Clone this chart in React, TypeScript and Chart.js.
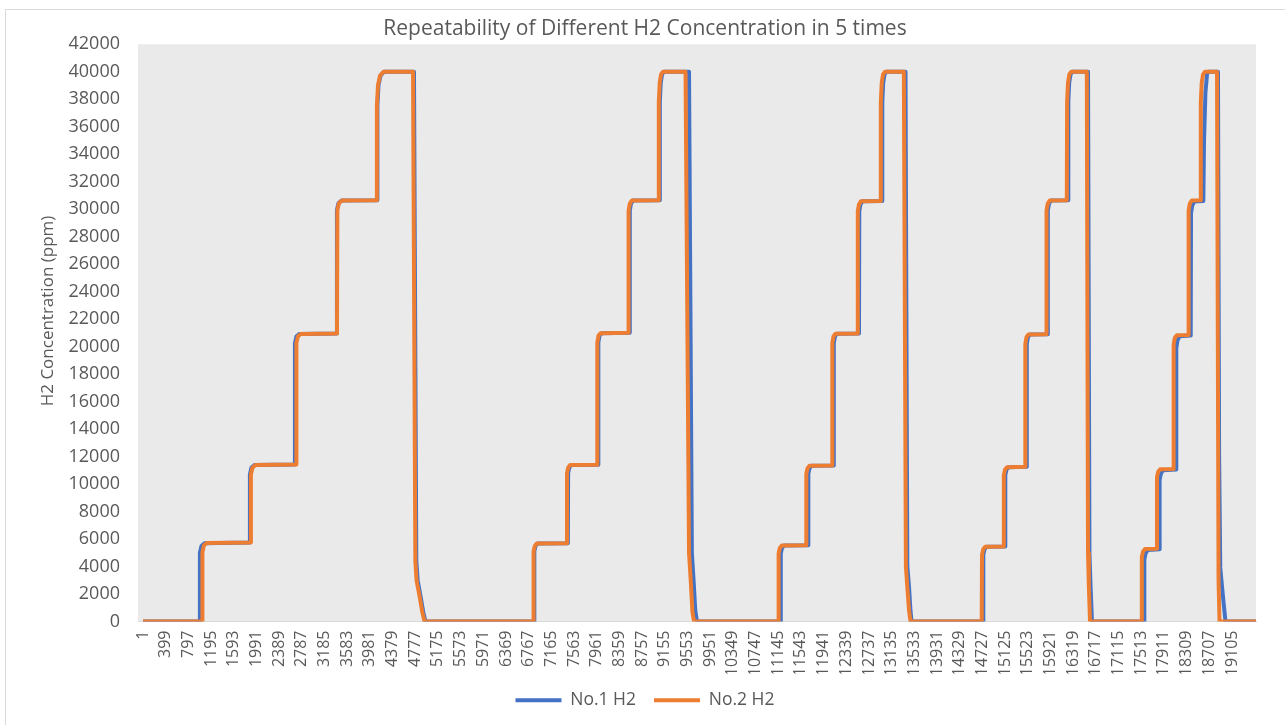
import React, { useEffect, useRef } from 'react';
import { Chart, registerables } from 'chart.js';

Chart.register(...registerables);

const chartTitle = 'Repeatability of Different H2 Concentration in 5 times';
const yAxisTitle = 'H2 Concentration (ppm)';
const seriesNames = ['No.1 H2', 'No.2 H2'];
const seriesColors = ['#4472C4', '#ED7D31'];

const xTickValues = [
  1, 399, 797, 1195, 1593, 1991, 2389, 2787, 3185, 3583, 3981, 4379, 4777, 5175, 5573, 5971,
  6369, 6767, 7165, 7563, 7961, 8359, 8757, 9155, 9553, 9951, 10349, 10747, 11145, 11543,
  11941, 12339, 12737, 13135, 13533, 13931, 14329, 14727, 15125, 15523, 15921, 16319, 16717,
  17115, 17513, 17911, 18309, 18707, 19105,
];

const yMin = 0;
const yMax = 42000;
const yStep = 2000;

// No.1 H2 (sample index, ppm)
const no1X = [
  1, 992, 999, 1027, 1080, 1869, 1876, 1904, 1957, 2659, 2666, 2694, 2747, 3396, 3403, 3431, 3484,
  4106, 4113, 4132, 4167, 4229, 4755, 4796, 4820, 4872, 4917, 4957,
  6861, 6866, 6887, 6922, 7454, 7459, 7480, 7515, 7984, 7989, 8010, 8045, 8536, 8541, 8562, 8597,
  9063, 9068, 9084, 9107, 9142, 9580, 9630, 9660, 9690, 9720,
  11185, 11190, 11211, 11246, 11668, 11673, 11694, 11729, 12115, 12120, 12141, 12176, 12562, 12567,
  12588, 12623, 12966, 12971, 12987, 13010, 13045, 13378, 13410, 13440, 13465, 13484,
  14738, 14743, 14764, 14799, 15124, 15129, 15150, 15185, 15501, 15506, 15527, 15562, 15870, 15875,
  15896, 15931, 16229, 16234, 16250, 16273, 16308, 16580, 16605, 16625, 16650,
  17563, 17568, 17590, 17625, 17831, 17836, 17858, 17893, 18124, 18129, 18150, 18185, 18382, 18387,
  18408, 18443, 18603, 18615, 18640, 18668, 18690, 18860, 18880, 18900, 18955, 18992, 19527,
];
const no1Y = [
  0, 0, 5000, 5500, 5700, 5750, 10700, 11200, 11380, 11420, 20250, 20750, 20920, 20950, 29950, 30450, 30620,
  30650, 37500, 39000, 39700, 40000, 40000, 4400, 3000, 1800, 700, 0,
  0, 5100, 5500, 5680, 5700, 10800, 11200, 11380, 11400, 20300, 20800, 20970, 21000, 29900, 30400, 30620,
  30650, 37800, 39200, 39800, 40000, 40000, 5000, 3000, 800, 0,
  0, 4950, 5350, 5530, 5550, 10750, 11150, 11330, 11350, 20250, 20750, 20930, 20950, 29850,
  30350, 30580, 30600, 37800, 39200, 39800, 40000, 40000, 4000, 2500, 800, 0,
  0, 4850, 5250, 5430, 5450, 10650, 11050, 11230, 11250, 20200, 20700, 20880, 20900, 29900,
  30400, 30630, 30650, 37800, 39200, 39800, 40000, 40000, 5000, 2500, 0,
  0, 4500, 4950, 5200, 5250, 10300, 10750, 11000, 11050, 19900, 20450, 20750, 20800, 29700,
  30250, 30550, 30600, 35000, 38500, 39800, 40000, 40000, 12000, 3900, 1500, 0, 0,
];

// No.2 H2 (sample index, ppm)
const no2X = [
  1, 1036, 1043, 1071, 1124, 1887, 1894, 1922, 1975, 2685, 2692, 2720, 2773, 3404, 3411, 3439, 3492,
  4097, 4104, 4123, 4158, 4220, 4738, 4779, 4800, 4855, 4900, 4940,
  6848, 6853, 6874, 6909, 7434, 7439, 7460, 7495, 7966, 7971, 7992, 8027, 8515, 8520, 8541, 8576,
  9045, 9050, 9066, 9089, 9124, 9519, 9580, 9610, 9640, 9668,
  11147, 11152, 11173, 11208, 11633, 11638, 11659, 11694, 12089, 12094, 12115, 12150, 12536, 12541,
  12562, 12597, 12940, 12945, 12961, 12984, 13019, 13349, 13385, 13410, 13440, 13466,
  14715, 14720, 14741, 14776, 15098, 15103, 15124, 15159, 15475, 15480, 15501, 15536, 15847, 15852,
  15873, 15908, 16208, 16213, 16229, 16252, 16287, 16559, 16580, 16595, 16615,
  17519, 17524, 17545, 17580, 17785, 17790, 17811, 17846, 18077, 18082, 18103, 18138, 18340, 18345,
  18366, 18401, 18554, 18559, 18575, 18598, 18633, 18843, 18870, 18887, 19527,
];
const no2Y = [
  0, 0, 5050, 5550, 5720, 5750, 10700, 11200, 11380, 11420, 20250, 20750, 20920, 20950, 29950, 30450, 30620,
  30650, 37500, 39000, 39700, 40000, 40000, 4400, 3000, 1800, 700, 0,
  0, 5100, 5500, 5680, 5700, 10800, 11200, 11380, 11400, 20300, 20800, 20970, 21000, 29900, 30400, 30620,
  30650, 37800, 39200, 39800, 40000, 40000, 5000, 3000, 700, 0,
  0, 4950, 5350, 5530, 5550, 10750, 11150, 11330, 11350, 20250, 20750, 20930, 20950, 29850,
  30350, 30580, 30600, 37800, 39200, 39800, 40000, 40000, 4000, 2500, 800, 0,
  0, 4850, 5250, 5430, 5450, 10650, 11050, 11230, 11250, 20200, 20700, 20880, 20900, 29900,
  30400, 30630, 30650, 37800, 39200, 39800, 40000, 40000, 5000, 2500, 0,
  0, 4700, 5100, 5280, 5300, 10500, 10900, 11080, 11100, 20150, 20650, 20830, 20850, 29900,
  30400, 30630, 30650, 37800, 39200, 39800, 40000, 40000, 3000, 0, 0,
];

const xMin = -87;
const xMax = 19527;

const FONT = "'Open Sans', 'DejaVu Sans', sans-serif";
const TEXT = '#595959';

const backgroundPlugin = {
  id: 'excelBackground',
  beforeDraw(chart: any) {
    const { ctx, chartArea: a, width, height } = chart;
    ctx.save();
    ctx.fillStyle = '#ffffff';
    ctx.fillRect(0, 0, width, height);
    ctx.strokeStyle = '#D9D9D9';
    ctx.lineWidth = 1;
    ctx.beginPath();
    ctx.moveTo(5.5, height);
    ctx.lineTo(5.5, 9.5);
    ctx.lineTo(width, 9.5);
    ctx.stroke();
    ctx.fillStyle = '#EAEAEA';
    ctx.fillRect(a.left, a.top, a.right - a.left, a.bottom - a.top);
    ctx.restore();
  },
  afterDraw(chart: any) {
    const { ctx } = chart;
    ctx.save();
    ctx.translate(48, 311);
    ctx.rotate(-Math.PI / 2);
    ctx.fillStyle = TEXT;
    ctx.font = `17px ${FONT}`;
    ctx.textAlign = 'center';
    ctx.textBaseline = 'middle';
    ctx.fillText(yAxisTitle, 0, 0);
    ctx.restore();
  },
};

export default function App() {
  const canvasRef = useRef<HTMLCanvasElement | null>(null);

  useEffect(() => {
    document.body.style.margin = '0';
    document.body.style.overflow = 'hidden';
    const canvas = canvasRef.current;
    if (!canvas) return;

    const toPoints = (xs: number[], ys: number[]) => xs.map((x, i) => ({ x, y: ys[i] }));

    const chart = new Chart(canvas, {
      type: 'line',
      data: {
        datasets: [
          {
            label: seriesNames[0],
            data: toPoints(no1X, no1Y),
            borderColor: seriesColors[0],
            backgroundColor: seriesColors[0],
            borderWidth: 4,
            pointRadius: 0,
            pointStyle: 'line',
            tension: 0,
            borderJoinStyle: 'round',
            order: 2,
          },
          {
            label: seriesNames[1],
            data: toPoints(no2X, no2Y),
            borderColor: seriesColors[1],
            backgroundColor: seriesColors[1],
            borderWidth: 4,
            pointRadius: 0,
            pointStyle: 'line',
            tension: 0,
            borderJoinStyle: 'round',
            order: 1,
          },
        ],
      },
      options: {
        responsive: false,
        animation: false,
        events: [],
        layout: { padding: { left: 34, right: 29, top: 9, bottom: 6 } },
        plugins: {
          title: {
            display: true,
            text: chartTitle,
            color: TEXT,
            font: { family: FONT, size: 21, weight: 'normal' },
            padding: { top: 7, bottom: 3 },
          },
          legend: {
            display: true,
            position: 'bottom',
            labels: {
              color: TEXT,
              font: { family: FONT, size: 17.5 },
              usePointStyle: true,
              pointStyleWidth: 46,
              padding: 18,
              sort: (a: any, b: any) => a.datasetIndex - b.datasetIndex,
            },
          },
          tooltip: { enabled: false },
        },
        scales: {
          x: {
            type: 'linear',
            min: xMin,
            max: xMax,
            grid: { display: false, drawTicks: false },
            border: { display: true, color: '#D9D9D9', width: 1 },
            afterBuildTicks: (scale: any) => {
              scale.ticks = xTickValues.map((v) => ({ value: v }));
            },
            afterFit: (scale: any) => {
              scale.height = 52;
            },
            ticks: {
              autoSkip: false,
              minRotation: 90,
              maxRotation: 90,
              padding: 9,
              color: TEXT,
              font: { family: FONT, size: 16 },
              callback: (v: any) => String(v),
            },
          },
          y: {
            type: 'linear',
            min: yMin,
            max: yMax,
            grid: { display: false, drawTicks: false },
            border: { display: false },
            afterFit: (scale: any) => {
              scale.width = 104;
            },
            ticks: {
              stepSize: yStep,
              padding: 18,
              color: TEXT,
              font: { family: FONT, size: 18 },
              callback: (v: any) => String(v),
            },
          },
        },
      },
      plugins: [backgroundPlugin],
    } as any);

    return () => chart.destroy();
  }, []);

  return (
    <div style={{ position: 'fixed', left: 0, top: 0, width: 1285, height: 725, background: '#fff' }}>
      <canvas ref={canvasRef} width={1285} height={725} style={{ display: 'block' }} />
    </div>
  );
}
